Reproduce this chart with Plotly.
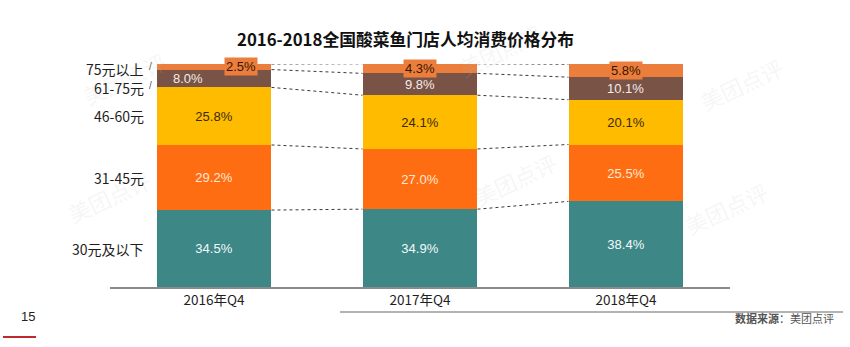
import plotly.graph_objects as go

# Data: share of stores by average spend per customer (%)
periods = ["2016年Q4", "2017年Q4", "2018年Q4"]
bands = ["30元及以下", "31-45元", "46-60元", "61-75元", "75元以上"]
share_le30 = [34.5, 34.9, 38.4]
share_31_45 = [29.2, 27.0, 25.5]
share_46_60 = [25.8, 24.1, 20.1]
share_61_75 = [8.0, 9.8, 10.1]
share_gt75 = [2.5, 4.3, 5.8]

series = [share_le30, share_31_45, share_46_60, share_61_75, share_gt75]
colors = ["#3D8787", "#FF6D12", "#FFBB00", "#785346", "#EB7E3C"]
text_colors = ["#F2FAFA", "#FFE8D6", "#3A2A08", "#F4ECE6", "#3A1500"]

FONT = "Liberation Sans, Arial, Noto Sans CJK SC, sans-serif"
CJK = "Noto Sans CJK SC, Liberation Sans, sans-serif"
BAR_W = 0.558
xs = list(range(len(periods)))

W, H = 850, 347
ML, MR, MT, MB = 110, 120, 64, 60
PW, PH = W - ML - MR, H - MT - MB


def px(xp):
    """canvas pixel x -> paper fraction"""
    return (xp - ML) / PW


def py(yp):
    """canvas pixel y (from top) -> paper fraction"""
    return (H - MB - yp) / PH


fig = go.Figure()
for i, (name, vals) in enumerate(zip(bands, series)):
    inside = i < 3
    fig.add_trace(go.Bar(
        x=xs, y=vals, name=name, width=BAR_W,
        marker=dict(color=colors[i], line=dict(width=0)),
        text=[f"{v:.1f}%" for v in vals] if inside else None,
        textposition="inside" if inside else "none",
        insidetextanchor="middle",
        textfont=dict(family=FONT, size=13, color=text_colors[i]),
        hoverinfo="skip",
    ))

# cumulative boundaries per bar
cums = []
for j in xs:
    c, row = 0.0, []
    for s in series:
        c += s[j]
        row.append(c)
    cums.append(row)

shapes = []
# dotted connectors between neighbouring bars at each segment boundary
for j in xs[:-1]:
    for k in range(len(series)):
        shapes.append(dict(
            type="line", xref="x", yref="y",
            x0=j + BAR_W / 2, y0=cums[j][k], x1=j + 1 - BAR_W / 2, y1=cums[j + 1][k],
            line=dict(color="#3A3A3A", width=1, dash="dot"),
        ))

annotations = []

# faint brand watermarks (drawn first so they sit under the other texts)
for wx, wy in ((75, 42), (60, 232), (500, 14), (515, 215), (790, 48), (775, 208)):
    annotations.append(dict(
        x=px(wx), y=py(wy), xref="paper", yref="paper", text="美团点评", showarrow=False,
        textangle=-25, font=dict(family=CJK, size=22, color="rgba(190,190,190,0.14)"),
    ))

# labels for the two thin top segments
top_offsets = {0: [-0.126, 0.13]}
for j in xs:
    base61 = cums[j][2]
    base75 = cums[j][3]
    off = top_offsets.get(j, [0.0, 0.0])
    annotations.append(dict(
        x=j + off[0], y=base61 + share_61_75[j] / 2, xref="x", yref="y",
        text=f"{share_61_75[j]:.1f}%", showarrow=False,
        font=dict(family=FONT, size=13, color=text_colors[3]),
    ))
    annotations.append(dict(
        x=j + off[1], y=base75 + share_gt75[j] / 2, xref="x", yref="y",
        text=f"{share_gt75[j]:.1f}%", showarrow=False,
        font=dict(family=FONT, size=13, color=text_colors[4]),
        bgcolor=colors[4], borderpad=1,
    ))

# band names on the left, aligned with the first bar's segments
band_shift = [0, 0, 0, -9, -2]
for k, name in enumerate(bands):
    mid = cums[0][k] - series[k][0] / 2
    annotations.append(dict(
        x=-0.5, y=mid, xref="x", yref="y", xanchor="right", xshift=35,
        yshift=band_shift[k], text=name, showarrow=False,
        font=dict(family=CJK, size=14, color="#1E1E1E"),
    ))
# small slanted ticks next to the two thin bands
for k, ys in ((3, -9), (4, -2)):
    mid = cums[0][k] - series[k][0] / 2
    annotations.append(dict(
        x=-0.5, y=mid, xref="x", yref="y", xanchor="left", xshift=36,
        yshift=ys + 2, text="/", showarrow=False,
        font=dict(family=FONT, size=10, color="#555555"),
    ))

# title
annotations.append(dict(
    x=px(405), y=py(25), xref="paper", yref="paper",
    text="<b>2016-2018全国酸菜鱼门店人均消费价格分布</b>",
    showarrow=False, font=dict(family=CJK, size=16.8, color="#111111"),
))

# page number and source
annotations.append(dict(
    x=px(19), y=py(326), xref="paper", yref="paper", text="15", showarrow=False,
    font=dict(family=FONT, size=13, color="#222222"),
))
annotations.append(dict(
    x=px(836), y=py(328), xref="paper", yref="paper", xanchor="right",
    text="<b>数据来源</b>：美团点评", showarrow=False,
    font=dict(family=CJK, size=11, color="#555555"),
))

shapes.append(dict(type="line", xref="paper", yref="paper",
                   x0=px(340), x1=px(843), y0=py(312), y1=py(312),
                   line=dict(color="#9A9A9A", width=1.5)))
shapes.append(dict(type="line", xref="paper", yref="paper",
                   x0=px(3), x1=px(36), y0=py(337), y1=py(337),
                   line=dict(color="#C0282D", width=2)))

fig.update_layout(
    barmode="stack",
    width=W, height=H,
    margin=dict(l=ML, r=MR, t=MT, b=MB),
    paper_bgcolor="white", plot_bgcolor="white",
    showlegend=False,
    bargap=0,
    xaxis=dict(
        range=[-0.505, 2.505], tickmode="array", tickvals=xs, ticktext=periods,
        showgrid=False, zeroline=False, showline=True, linecolor="#8A8A8A", linewidth=1.5,
        ticks="", tickfont=dict(family=CJK, size=13.5, color="#1E1E1E"),
    ),
    yaxis=dict(range=[0, 100], visible=False, showgrid=False, zeroline=False),
    shapes=shapes,
    annotations=annotations,
)

fig.write_html("out.html")
